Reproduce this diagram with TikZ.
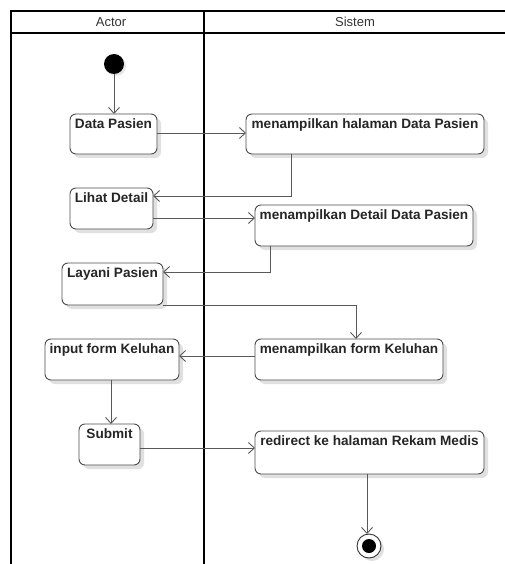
\documentclass[tikz,border=0pt]{standalone}
\usepackage{fontspec}
\setmainfont{Liberation Sans}
\usetikzlibrary{arrows.meta,shadows}
\begin{document}
\begin{tikzpicture}[x=1pt,y=-1pt,
  every node/.style={inner sep=0pt,outer sep=0pt},
  act/.style={draw=black!70,line width=0.9pt,rounded corners=6pt,fill=white,
    drop shadow={shadow xshift=4pt,shadow yshift=-4pt,opacity=0.12,fill=black}},
  lbl/.style={anchor=north,font=\bfseries\fontsize{13.6}{15}\selectfont,text=black!85},
  head/.style={font=\fontsize{13}{15}\selectfont,text=black!80},
  flow/.style={draw=black!65,line width=0.9pt,-{Straight Barb[length=6pt,width=11pt]}},
  lane/.style={line width=1.8pt}]
\useasboundingbox (0,0) rectangle (504,564);
% swimlane frame
\draw[lane] (11,564) -- (11,11) -- (506,11);
\draw[lane] (11,33) -- (506,33);
\draw[line width=2.6pt] (204,11) -- (204,564);
\node[head] (hA) at (111,22) {Actor};
\node[head] (hS) at (355,22) {Sistem};
% start / end
\fill[black!10] (116,66) circle (10pt);
\node[circle,fill=black,minimum size=20pt] (start) at (114,64) {};
\node[circle,draw=black!80,line width=0.9pt,fill=white,minimum size=24pt,
  drop shadow={shadow xshift=3pt,shadow yshift=-3pt,opacity=0.12,fill=black}] (stop) at (369,546) {};
\fill (stop.center) circle (7pt);
% actions
\node[act,minimum width=87pt,minimum height=40pt] (dp) at (113.5,134) {};
\node[lbl] at ([yshift=-5pt]dp.north) {Data Pasien};
\node[act,minimum width=238pt,minimum height=40pt] (mh) at (365,134) {};
\node[lbl] at ([yshift=-5pt]mh.north) {menampilkan halaman Data Pasien};
\node[act,minimum width=83pt,minimum height=41pt] (ld) at (111.5,208.5) {};
\node[lbl] at ([yshift=-5pt]ld.north) {Lihat Detail};
\node[act,minimum width=218pt,minimum height=41pt] (md) at (364,225.5) {};
\node[lbl] at ([yshift=-5pt]md.north) {menampilkan Detail Data Pasien};
\node[act,minimum width=101pt,minimum height=42pt] (lp) at (112.5,284) {};
\node[lbl] at ([yshift=-5pt]lp.north) {Layani Pasien};
\node[act,minimum width=188pt,minimum height=41pt] (mf) at (349,359.5) {};
\node[lbl] at ([yshift=-5pt]mf.north) {menampilkan form Keluhan};
\node[act,minimum width=134pt,minimum height=41pt] (if) at (112,359.5) {};
\node[lbl] at ([yshift=-5pt]if.north) {input form Keluhan};
\node[act,minimum width=61pt,minimum height=41pt] (sb) at (109.5,444.5) {};
\node[lbl] at ([yshift=-5pt]sb.north) {Submit};
\node[act,minimum width=229pt,minimum height=43pt] (rd) at (369.5,452.5) {};
\node[lbl] at ([yshift=-5pt]rd.north) {redirect ke halaman Rekam Medis};
% transitions
\draw[flow] (start) -- (start |- dp.north);
\draw[flow] (dp.east |- 0,133) -- (mh.west |- 0,133);
\draw[flow] (291,154) |- (ld.east |- 0,196);
\draw[flow] (ld.east |- 0,218) -- (md.west |- 0,218);
\draw[flow] (270,246) |- (lp.east |- 0,272);
\draw[flow] (lp.east |- 0,305) -| (356,339);
\draw[flow] (mf.west |- 0,356) -- (if.east |- 0,356);
\draw[flow] (if.south -| 111,0) -- (111,424);
\draw[flow] (sb.east |- 0,448) -- (rd.west |- 0,448);
\draw[flow] (rd.south -| 367,0) -- (stop.north -| 367,0);
\end{tikzpicture}
\end{document}
